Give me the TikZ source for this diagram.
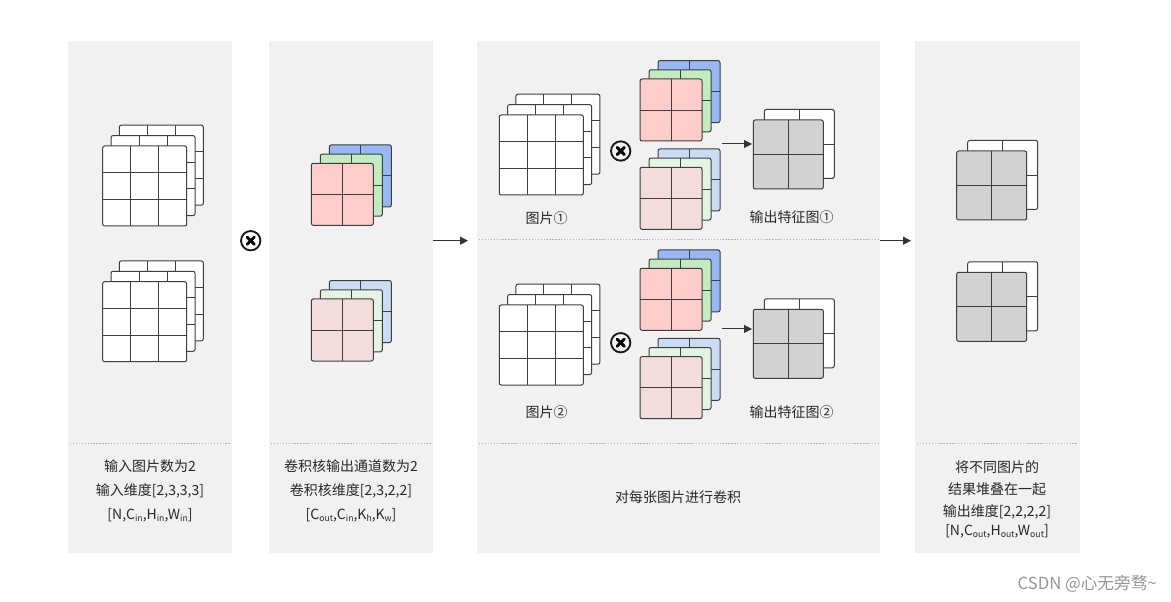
\documentclass[tikz,border=0pt]{standalone}
\usepackage{fontspec}
\setmainfont{Noto Sans CJK SC}
\usetikzlibrary{arrows.meta}
\definecolor{panel}{RGB}{241,241,241}
\definecolor{edge}{RGB}{62,62,62}
\definecolor{kred}{RGB}{255,204,204}
\definecolor{kgreen}{RGB}{194,235,192}
\definecolor{kblue}{RGB}{152,184,244}
\definecolor{lred}{RGB}{242,220,220}
\definecolor{lgreen}{RGB}{228,244,226}
\definecolor{lblue}{RGB}{202,220,243}
\definecolor{fmap}{RGB}{210,210,210}
\definecolor{dotc}{RGB}{180,180,180}
\definecolor{txt}{RGB}{40,40,40}
\definecolor{wm}{RGB}{150,150,150}
\newcommand\sbx[1]{\raisebox{-0.25ex}{\fontsize{6.5pt}{7pt}\selectfont #1}}
\newcommand\glayer[6]{%
  \draw[layer,fill=#6] (#1,#2) rectangle ++(#3,#4);
  \foreach \f in {#5} {
    \draw[gridln] ({#1+\f*#3},#2) -- ++(0,#4);
    \draw[gridln] (#1,{#2+\f*#4}) -- ++(#3,0);
  }%
}
\newcommand\imgstack[2]{%
  \glayer{#1+16.6}{#2-20.8}{84}{80}{1/3,2/3}{white}
  \glayer{#1+8.3}{#2-10.4}{84}{80}{1/3,2/3}{white}
  \glayer{#1}{#2}{84}{80}{1/3,2/3}{white}}
\newcommand\kstack[5]{%
  \glayer{#1+18}{#2-18.4}{62}{62}{1/2}{#3}
  \glayer{#1+9}{#2-9.2}{62}{62}{1/2}{#4}
  \glayer{#1}{#2}{62}{62}{1/2}{#5}}
\newcommand\fstack[2]{%
  \glayer{#1+11}{#2-10.5}{70}{69}{1/2}{white}
  \glayer{#1}{#2}{70}{69}{1/2}{fmap}}
\begin{document}
\begin{tikzpicture}[x=0.75pt,y=-0.75pt,
  layer/.style={draw=edge,line width=0.75pt,rounded corners=1.5pt},
  gridln/.style={draw=edge,line width=0.7pt},
  panelbox/.style={fill=panel,draw=none},
  sep/.style={draw=dotc,line width=0.6pt,dash pattern=on 1pt off 1.2pt},
  otimes/.style={circle,draw=black!90,line width=1.4pt,minimum size=14.5pt,inner sep=0pt},
  crossln/.style={line width=2.2pt,line cap=round},
  arr/.style={draw=black!80,line width=0.75pt,-{Triangle[length=6pt,width=6pt]}},
  lbl/.style={text=txt,font=\fontsize{10.5pt}{12pt}\selectfont,inner sep=0pt,anchor=center}]
\useasboundingbox (0,0) rectangle (1171,602);
\fill[white] (0,0) rectangle (1171,602);
% panels
\path[panelbox] (68,41) rectangle (232,553);
\path[panelbox] (269,41) rectangle (433,553);
\path[panelbox] (477,41) rectangle (880,553);
\path[panelbox] (915,41) rectangle (1080,553);
% separators
\draw[sep] (70,443) -- (230,443);
\draw[sep] (271,443) -- (431,443);
\draw[sep] (479,443) -- (878,443);
\draw[sep] (917,443) -- (1078,443);
\draw[sep] (479,239.5) -- (878,239.5);
% panel 1: input images
\imgstack{102.7}{146}
\imgstack{102.7}{281.7}
% otimes between panel 1 and 2
\node[otimes] (ot0) at (250.7,240.7) {};
\draw[crossln] ([shift={(-3.6,-3.6)}]ot0.center) -- ([shift={(3.6,3.6)}]ot0.center);
\draw[crossln] ([shift={(-3.6,3.6)}]ot0.center) -- ([shift={(3.6,-3.6)}]ot0.center);
% panel 2: kernels
\kstack{311.3}{163.3}{kblue}{kgreen}{kred}
\kstack{311.3}{299}{lblue}{lgreen}{lred}
% arrow panel 2 -> panel 3
\coordinate (a1s) at (433,240.7);
\coordinate (a1e) at (468,240.7);
\draw[arr] (a1s) -- (a1e);
% panel 3 top half
\imgstack{499.3}{115}
\node[otimes] (ot1) at (620.7,151) {};
\draw[crossln] ([shift={(-3.6,-3.6)}]ot1.center) -- ([shift={(3.6,3.6)}]ot1.center);
\draw[crossln] ([shift={(-3.6,3.6)}]ot1.center) -- ([shift={(3.6,-3.6)}]ot1.center);
\kstack{640}{79}{kblue}{kgreen}{kred}
\kstack{640}{167.3}{lblue}{lgreen}{lred}
\coordinate (k1r) at (722,144);
\coordinate (f1l) at (752,144);
\draw[arr] (k1r) -- (f1l);
\fstack{753.3}{120}
\node[lbl] (l1) at (546.7,218) {图片①};
\node[lbl] (l2) at (791.7,216.7) {输出特征图①};
% panel 3 bottom half
\imgstack{499.3}{305}
\node[otimes] (ot2) at (620.7,342.7) {};
\draw[crossln] ([shift={(-3.6,-3.6)}]ot2.center) -- ([shift={(3.6,3.6)}]ot2.center);
\draw[crossln] ([shift={(-3.6,3.6)}]ot2.center) -- ([shift={(3.6,-3.6)}]ot2.center);
\kstack{640}{268.3}{kblue}{kgreen}{kred}
\kstack{640}{356.7}{lblue}{lgreen}{lred}
\coordinate (k2r) at (722,329);
\coordinate (f2l) at (752,329);
\draw[arr] (k2r) -- (f2l);
\fstack{753.3}{309.3}
\node[lbl] (l3) at (546.7,411.7) {图片②};
\node[lbl] (l4) at (791.7,411.7) {输出特征图②};
% arrow panel 3 -> panel 4
\coordinate (a2s) at (880,240.7);
\coordinate (a2e) at (911,240.7);
\draw[arr] (a2s) -- (a2e);
% panel 4
\fstack{956.7}{151}
\fstack{956.7}{272.3}
% captions
\node[lbl] (c1a) at (150,466) {输入图片数为2};
\node[lbl] (c1b) at (150,491) {输入维度[2,3,3,3]};
\node[lbl] (c1c) at (150,515.5) {[N,C\sbx{in},H\sbx{in},W\sbx{in}]};
\node[lbl] (c2a) at (351,466) {卷积核输出通道数为2};
\node[lbl] (c2b) at (351,491) {卷积核维度[2,3,2,2]};
\node[lbl] (c2c) at (351,515.5) {[C\sbx{out},C\sbx{in},K\sbx{h},K\sbx{w}]};
\node[lbl] (c3) at (678,496.7) {对每张图片进行卷积};
\node[lbl] (c4a) at (997,466.7) {将不同图片的};
\node[lbl] (c4b) at (997,489.5) {结果堆叠在一起};
\node[lbl] (c4c) at (997,511.5) {输出维度[2,2,2,2]};
\node[lbl] (c4d) at (997,531) {[N,C\sbx{out},H\sbx{out},W\sbx{out}]};
% watermark
\node[text=wm,font=\fontsize{12.5pt}{14pt}\selectfont,inner sep=0pt,anchor=east] (wmk) at (1157,584) {CSDN @心无旁骛\textasciitilde};
\end{tikzpicture}
\end{document}
